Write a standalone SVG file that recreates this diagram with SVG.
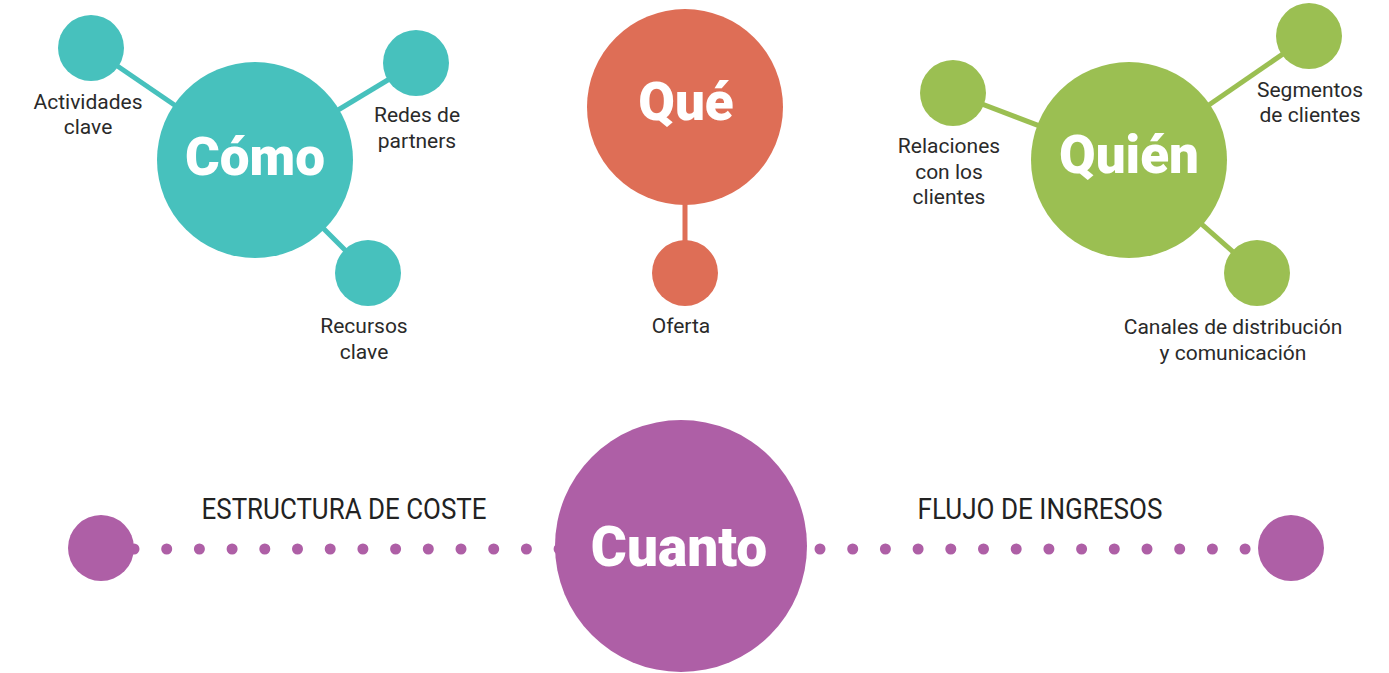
<svg xmlns="http://www.w3.org/2000/svg" width="1389" height="673" viewBox="0 0 1389 673">
<style>
.teal{fill:#47C1BD}.orange{fill:#DE6E56}.green{fill:#9BBF52}.purple{fill:#AE5FA6}
.lt{stroke:#47C1BD;stroke-width:5}.lo{stroke:#DE6E56;stroke-width:5}.lg{stroke:#9BBF52;stroke-width:5}
.dots{stroke:#AE5FA6;stroke-width:11;stroke-linecap:round;stroke-dasharray:0 32.7;fill:none}
.title{font-family:Roboto,"Liberation Sans",sans-serif;font-weight:900;fill:#fff;text-anchor:middle}
.lbl{font-family:Roboto,"Liberation Sans",sans-serif;font-size:21px;fill:#2a2a2a;text-anchor:middle}
.cap{font-family:Roboto,"Liberation Sans",sans-serif;font-size:29px;fill:#222;text-anchor:middle}
</style>
<rect width="1389" height="673" fill="#fff"/>
<g id="connectors">
<line class="lt" x1="255" y1="160" x2="91" y2="48"/>
<line class="lt" x1="255" y1="160" x2="416" y2="63"/>
<line class="lt" x1="255" y1="160" x2="368" y2="273"/>
<line class="lo" x1="685" y1="107" x2="685" y2="273"/>
<line class="lg" x1="1129" y1="160" x2="953" y2="93"/>
<line class="lg" x1="1129" y1="160" x2="1309" y2="36"/>
<line class="lg" x1="1129" y1="160" x2="1257" y2="273"/>
<line class="dots" x1="134" y1="549" x2="560" y2="549"/>
<line class="dots" x1="820" y1="549" x2="1246" y2="549"/>
</g>
<g id="como">
<circle class="teal" cx="255" cy="160" r="98"/>
<text class="title" x="255" y="175" font-size="53">Cómo</text>
</g>
<g id="actividades">
<circle class="teal" cx="91" cy="48" r="33"/>
<text class="lbl" x="88" y="109">Actividades</text>
<text class="lbl" x="88" y="134">clave</text>
</g>
<g id="redes">
<circle class="teal" cx="416" cy="63" r="33"/>
<text class="lbl" x="417" y="122">Redes de</text>
<text class="lbl" x="417" y="148">partners</text>
</g>
<g id="recursos">
<circle class="teal" cx="368" cy="273" r="33"/>
<text class="lbl" x="364" y="333">Recursos</text>
<text class="lbl" x="364" y="359">clave</text>
</g>
<g id="que">
<circle class="orange" cx="685" cy="107" r="98"/>
<text class="title" x="686" y="120" font-size="53">Qué</text>
</g>
<g id="oferta">
<circle class="orange" cx="685" cy="273" r="33"/>
<text class="lbl" x="681" y="333">Oferta</text>
</g>
<g id="quien">
<circle class="green" cx="1129" cy="160" r="98"/>
<text class="title" x="1129" y="173" font-size="53">Quién</text>
</g>
<g id="relaciones">
<circle class="green" cx="953" cy="93" r="33"/>
<text class="lbl" x="949" y="153">Relaciones</text>
<text class="lbl" x="949" y="179">con los</text>
<text class="lbl" x="949" y="204">clientes</text>
</g>
<g id="segmentos">
<circle class="green" cx="1309" cy="36" r="33"/>
<text class="lbl" x="1310" y="97">Segmentos</text>
<text class="lbl" x="1310" y="122">de clientes</text>
</g>
<g id="canales">
<circle class="green" cx="1257" cy="273" r="33"/>
<text class="lbl" x="1233" y="334">Canales de distribución</text>
<text class="lbl" x="1233" y="360">y comunicación</text>
</g>
<g id="cuanto">
<circle class="purple" cx="681" cy="546" r="126"/>
<text class="title" x="679" y="566" font-size="55">Cuanto</text>
</g>
<g id="coste">
<circle class="purple" cx="101" cy="548" r="33"/>
<text class="cap" x="344" y="519" textLength="285" lengthAdjust="spacingAndGlyphs">ESTRUCTURA DE COSTE</text>
</g>
<g id="ingresos">
<circle class="purple" cx="1291" cy="548" r="33"/>
<text class="cap" x="1040" y="519" textLength="245" lengthAdjust="spacingAndGlyphs">FLUJO DE INGRESOS</text>
</g>
</svg>
